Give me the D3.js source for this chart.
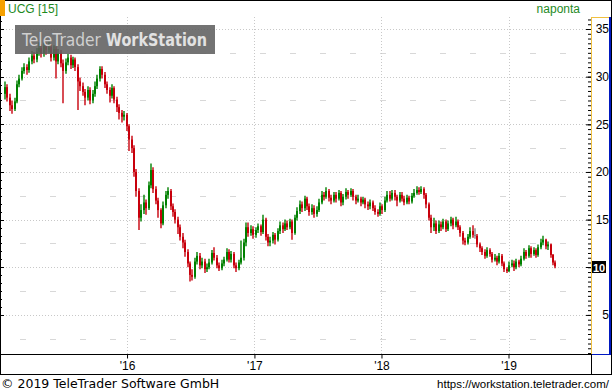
<!DOCTYPE html>
<html>
<head>
<meta charset="utf-8">
<script src="https://cdn.jsdelivr.net/npm/d3@7"></script>
<style>
  body { margin: 0; background: #fff; }
  svg { display: block; font-family: "Liberation Sans", Arial, sans-serif; }
</style>
</head>
<body>
<script>
// Weekly candles, first week starts 12 Jan 2015
var firstWeek = new Date(2015, 0, 12);

var opens = [
  28.2, 28.9, 27.8, 27.0, 26.6, 27.4, 29.2, 29.8, 30.6, 31.0,
  30.7, 31.6, 32.2, 31.8, 32.6, 33.0, 32.4, 33.2, 32.8, 33.1,
  32.0, 32.9, 31.6, 32.5, 31.4, 30.6, 31.5, 32.0, 31.2, 31.8,
  31.0, 29.5, 29.0, 28.4, 27.8, 28.6, 27.5, 28.2, 29.0, 29.8,
  30.8, 30.2, 29.2, 28.6, 28.0, 28.8, 27.6, 26.8, 26.2, 25.8,
  26.0, 24.8, 23.4, 22.5, 20.0, 18.0, 15.2, 16.0, 16.8, 16.2,
  18.6, 20.2, 18.2, 17.0, 16.0, 14.6, 16.5, 17.6, 18.0, 16.4,
  15.8, 15.0, 14.2, 13.2, 12.6, 11.6, 10.4, 9.2, 9.0, 10.6,
  11.2, 10.2, 10.6, 9.8, 10.0, 10.5, 11.5, 11.0, 10.2, 9.9,
  10.4, 10.8, 11.6, 10.8, 11.4, 10.2, 9.9, 10.5, 11.0, 12.6,
  14.2, 13.6, 14.0, 13.4, 13.9, 14.3, 13.7, 15.0, 13.2, 12.6,
  12.8, 13.4, 12.9, 13.8, 14.4, 14.0, 14.6, 14.2, 14.8, 13.6,
  15.2, 15.9, 16.6, 16.2, 17.2, 16.4, 15.8, 16.2, 15.6, 16.0,
  16.8, 17.6, 17.4, 18.0, 17.3, 17.0, 17.6, 17.2, 17.8, 16.8,
  17.4, 17.9, 17.6, 18.0, 17.4, 17.0, 17.2, 16.8, 17.1, 16.6,
  16.4, 16.8, 16.2, 15.8, 15.6, 16.4, 16.0, 17.0, 17.6, 17.2,
  17.8, 17.4, 17.0, 17.6, 17.2, 16.8, 17.3, 16.9, 17.5, 17.8,
  18.1, 17.9, 18.2, 17.6, 16.6, 15.2, 14.2, 14.6, 13.8, 14.5,
  14.2, 14.8, 14.0, 14.6, 15.0, 14.4, 14.8, 14.2, 13.6, 12.8,
  12.6, 13.2, 13.8, 13.4, 13.3, 12.4, 12.0, 11.6, 11.2, 11.8,
  11.4, 10.8, 11.0, 10.6, 11.2, 10.4, 9.8, 9.6, 10.2, 10.4,
  10.0, 10.6, 10.3, 10.9, 11.6, 11.2, 12.0, 11.4, 11.8, 11.3,
  12.1, 12.6, 12.9, 12.2, 12.4, 11.3, 10.5
];

var highs = [
  29.5, 29.2, 28.2, 27.5, 27.8, 29.6, 30.2, 31.0, 31.4, 31.3,
  32.0, 32.7, 32.6, 33.0, 33.6, 33.4, 33.6, 33.5, 33.7, 33.4,
  33.3, 33.2, 32.9, 32.8, 31.8, 31.9, 32.4, 32.3, 32.1, 32.0,
  31.3, 29.9, 29.4, 28.7, 29.0, 28.9, 28.6, 29.5, 30.2, 31.1,
  31.1, 30.5, 29.5, 28.9, 29.2, 29.0, 27.9, 27.1, 26.5, 26.4,
  26.2, 25.0, 23.8, 22.8, 20.3, 18.3, 16.6, 17.6, 17.1, 19.0,
  20.9, 20.5, 18.5, 17.3, 16.2, 16.9, 18.0, 18.4, 18.2, 16.7,
  16.1, 15.3, 14.5, 13.6, 12.9, 11.9, 10.6, 9.8, 11.0, 11.6,
  11.5, 11.0, 10.9, 10.4, 10.9, 11.8, 12.1, 11.3, 10.5, 10.8,
  11.1, 12.0, 11.9, 11.7, 11.6, 10.5, 10.8, 12.8, 13.0, 14.7,
  14.7, 14.4, 14.3, 14.2, 14.6, 14.5, 15.5, 15.2, 13.5, 13.2,
  13.7, 13.6, 14.1, 14.8, 14.7, 15.0, 14.9, 15.1, 15.0, 15.5,
  16.3, 17.0, 16.9, 17.5, 17.4, 16.7, 16.6, 16.5, 16.4, 17.2,
  18.0, 17.9, 18.4, 18.2, 17.6, 17.9, 17.9, 18.1, 18.0, 17.7,
  18.3, 18.1, 18.3, 18.2, 17.6, 17.6, 17.4, 17.4, 17.3, 16.9,
  17.1, 17.0, 16.5, 16.1, 16.8, 16.6, 17.4, 18.0, 18.0, 18.1,
  18.1, 17.6, 17.9, 17.9, 17.5, 17.6, 17.5, 17.8, 18.2, 18.5,
  18.4, 18.5, 18.4, 17.8, 16.8, 15.5, 15.2, 14.9, 14.9, 14.8,
  15.1, 15.0, 14.9, 15.3, 15.2, 15.3, 15.0, 14.4, 13.8, 13.1,
  13.5, 14.2, 14.4, 14.1, 13.5, 12.6, 12.2, 11.9, 12.1, 12.0,
  11.6, 11.4, 11.2, 11.5, 11.4, 10.6, 10.0, 10.6, 10.8, 10.7,
  10.9, 10.8, 11.2, 12.0, 11.8, 12.3, 12.2, 12.1, 12.0, 12.4,
  13.0, 13.3, 13.0, 12.7, 12.5, 11.4, 10.7
];

var lows = [
  27.6, 27.4, 26.4, 26.1, 26.4, 27.2, 28.9, 29.6, 30.3, 30.2,
  30.4, 31.3, 31.4, 31.5, 32.2, 32.0, 32.1, 32.3, 32.5, 31.6,
  31.7, 29.8, 31.3, 31.0, 27.2, 30.3, 31.2, 30.8, 30.9, 30.6,
  26.5, 28.5, 28.0, 27.0, 27.5, 27.1, 27.2, 27.9, 28.7, 29.5,
  29.8, 28.8, 28.2, 27.3, 27.7, 27.2, 26.3, 25.5, 25.2, 25.4,
  24.3, 22.2, 22.0, 19.5, 17.4, 13.9, 14.8, 15.6, 15.5, 16.0,
  18.3, 17.8, 16.6, 15.2, 14.1, 14.4, 16.2, 17.2, 16.0, 15.3,
  14.6, 13.5, 12.8, 12.0, 11.1, 10.0, 8.5, 8.6, 8.8, 10.3,
  9.8, 9.9, 9.4, 9.5, 9.8, 10.3, 10.7, 9.9, 9.6, 9.7,
  10.1, 10.6, 10.5, 10.5, 9.9, 9.5, 9.7, 10.3, 10.7, 12.2,
  13.2, 13.3, 13.0, 13.1, 13.6, 13.3, 13.5, 12.8, 12.2, 12.2,
  12.5, 12.4, 12.7, 13.5, 13.6, 13.8, 13.9, 14.0, 12.9, 13.4,
  14.9, 15.6, 15.8, 15.9, 16.0, 15.4, 15.5, 15.2, 15.3, 15.8,
  16.6, 17.0, 17.2, 16.9, 16.6, 16.8, 16.8, 17.0, 16.4, 16.5,
  17.1, 17.2, 17.4, 17.0, 16.6, 16.8, 16.4, 16.6, 16.2, 16.0,
  16.1, 15.9, 15.5, 15.3, 15.4, 15.6, 15.8, 16.8, 16.9, 17.0,
  17.0, 16.4, 16.8, 16.9, 16.5, 16.6, 16.6, 16.7, 17.3, 17.6,
  17.6, 17.7, 17.2, 16.2, 14.9, 13.6, 13.8, 13.5, 13.6, 13.8,
  14.0, 13.7, 13.8, 14.3, 14.0, 14.2, 13.9, 13.2, 12.4, 12.3,
  12.4, 13.0, 13.1, 13.0, 12.1, 11.6, 11.3, 10.9, 11.0, 11.1,
  10.5, 10.6, 10.2, 10.4, 10.1, 9.5, 9.4, 9.5, 10.0, 9.6,
  9.8, 10.0, 10.1, 10.7, 10.9, 11.0, 11.0, 11.2, 11.0, 11.1,
  11.9, 12.3, 11.9, 11.8, 11.0, 10.2, 9.9
];

var closes = [
  28.9, 27.8, 27.0, 26.6, 27.4, 29.2, 29.8, 30.6, 31.0, 30.7,
  31.6, 32.2, 31.8, 32.6, 33.0, 32.4, 33.2, 32.8, 33.1, 32.0,
  32.9, 31.6, 32.5, 31.4, 30.6, 31.5, 32.0, 31.2, 31.8, 31.0,
  29.5, 29.0, 28.4, 27.8, 28.6, 27.5, 28.2, 29.0, 29.8, 30.8,
  30.2, 29.2, 28.6, 28.0, 28.8, 27.6, 26.8, 26.2, 25.8, 26.0,
  24.8, 23.4, 22.5, 20.0, 18.0, 15.2, 16.0, 16.8, 16.2, 18.6,
  20.2, 18.2, 17.0, 16.0, 14.6, 16.5, 17.6, 18.0, 16.4, 15.8,
  15.0, 14.2, 13.2, 12.6, 11.6, 10.4, 9.2, 9.0, 10.6, 11.2,
  10.2, 10.6, 9.8, 10.0, 10.5, 11.5, 11.0, 10.2, 9.9, 10.4,
  10.8, 11.6, 10.8, 11.4, 10.2, 9.9, 10.5, 11.0, 12.6, 14.2,
  13.6, 14.0, 13.4, 13.9, 14.3, 13.7, 15.0, 13.2, 12.6, 12.8,
  13.4, 12.9, 13.8, 14.4, 14.0, 14.6, 14.2, 14.8, 13.6, 15.2,
  15.9, 16.6, 16.2, 17.2, 16.4, 15.8, 16.2, 15.6, 16.0, 16.8,
  17.6, 17.4, 18.0, 17.3, 17.0, 17.6, 17.2, 17.8, 16.8, 17.4,
  17.9, 17.6, 18.0, 17.4, 17.0, 17.2, 16.8, 17.1, 16.6, 16.4,
  16.8, 16.2, 15.8, 15.6, 16.4, 16.0, 17.0, 17.6, 17.2, 17.8,
  17.4, 17.0, 17.6, 17.2, 16.8, 17.3, 16.9, 17.5, 17.8, 18.1,
  17.9, 18.2, 17.6, 16.6, 15.2, 14.2, 14.6, 13.8, 14.5, 14.2,
  14.8, 14.0, 14.6, 15.0, 14.4, 14.8, 14.2, 13.6, 12.8, 12.6,
  13.2, 13.8, 13.4, 13.4, 12.4, 12.0, 11.6, 11.2, 11.8, 11.4,
  10.8, 11.0, 10.6, 11.2, 10.4, 9.8, 9.6, 10.2, 10.4, 10.0,
  10.6, 10.3, 10.9, 11.6, 11.2, 12.0, 11.4, 11.8, 11.3, 12.1,
  12.6, 12.9, 12.2, 12.4, 11.3, 10.5, 10.1
];

var priceTicks = [5, 10, 15, 20, 25, 30, 35];
var yearTicks = [new Date(2016, 0, 1), new Date(2017, 0, 1), new Date(2018, 0, 1), new Date(2019, 0, 1)];
var lastPrice = 10;

// size of the picture
var width = 612, height = 392;
var plotLeft = 0, plotRight = 591, plotTop = 17, plotBottom = 354;

var svg = d3.select('body').append('svg')
  .attr('width', width)
  .attr('height', height);

svg.append('rect').attr('width', width).attr('height', height).attr('fill', '#fff');

var x = d3.scaleTime()
  .domain([new Date(2015, 0, 1), new Date(2019, 7, 26)])
  .range([plotLeft, plotRight]);

var y = d3.scaleLinear()
  .domain([0.9, 36.26])
  .range([plotBottom, plotTop]);

var candles = closes.map(function(c, i) {
  return {date: d3.timeWeek.offset(firstWeek, i), o: opens[i], h: highs[i], l: lows[i], c: c};
});

// grid
var grid = svg.append('g');
grid.selectAll('.hmaj').data(priceTicks).enter().append('line')
  .attr('x1', plotLeft).attr('x2', plotRight)
  .attr('y1', d => Math.round(y(d)) + 0.5).attr('y2', d => Math.round(y(d)) + 0.5)
  .attr('stroke', '#c8c8c8').attr('stroke-dasharray', '1,2');
grid.selectAll('.hmin').data(priceTicks.map(d => d - 2.5)).enter().append('line')
  .attr('x1', plotLeft + 20).attr('x2', plotRight)
  .attr('y1', d => Math.round(y(d)) + 0.5).attr('y2', d => Math.round(y(d)) + 0.5)
  .attr('stroke', '#d8d8d8').attr('stroke-dasharray', '6,24');
grid.selectAll('.vmaj').data(yearTicks).enter().append('line')
  .attr('x1', d => Math.round(x(d)) + 0.5).attr('x2', d => Math.round(x(d)) + 0.5)
  .attr('y1', plotTop).attr('y2', plotBottom)
  .attr('stroke', '#c8c8c8').attr('stroke-dasharray', '1,2');

// candles
function candleColor(d) {
  if (d.c > d.o) return '#008000';
  if (d.c < d.o) return '#c8000c';
  return '#888';
}
var cg = svg.append('g');
cg.selectAll('line').data(candles).enter().append('line')
  .attr('x1', d => Math.round(x(d.date)) + 1)
  .attr('x2', d => Math.round(x(d.date)) + 1)
  .attr('y1', d => y(d.h))
  .attr('y2', d => y(d.l))
  .attr('stroke-width', 1.4)
  .attr('stroke', candleColor);
cg.selectAll('rect').data(candles).enter().append('rect')
  .attr('x', d => Math.round(x(d.date)))
  .attr('width', 2)
  .attr('y', d => y(Math.max(d.o, d.c)))
  .attr('height', d => Math.max(1, Math.abs(y(d.o) - y(d.c))))
  .attr('fill', candleColor);

// watermark
var wm = svg.append('g');
wm.append('rect')
  .attr('x', 15).attr('y', 25).attr('width', 200).attr('height', 29)
  .attr('fill', '#606060').attr('opacity', 0.88);
wm.append('text')
  .attr('x', 22).attr('y', 46)
  .attr('font-size', 18)
  .attr('font-family', '"DejaVu Sans", sans-serif')
  .attr('fill', '#cfcfcf')
  .attr('textLength', 79).attr('lengthAdjust', 'spacingAndGlyphs')
  .text('TeleTrader');
wm.append('text')
  .attr('x', 106).attr('y', 46)
  .attr('font-size', 18)
  .attr('font-weight', 'bold')
  .attr('font-family', '"DejaVu Sans", sans-serif')
  .attr('fill', '#e2e2e2')
  .attr('textLength', 101).attr('lengthAdjust', 'spacingAndGlyphs')
  .text('WorkStation');

// left edge ticks
var leftTicks = d3.range(1, 36.3, 5 / 6);
svg.append('g').selectAll('line').data(leftTicks).enter().append('line')
  .attr('x1', 0).attr('x2', (d, i) => i % 6 === 0 ? 4 : 2)
  .attr('y1', d => Math.round(y(d - 1 + 5)) + 0.5)
  .attr('y2', d => Math.round(y(d - 1 + 5)) + 0.5)
  .attr('stroke', '#000');

// right price axis
var minorAxis = d3.axisLeft(y)
  .tickValues(d3.range(1, 36.1, 0.5))
  .tickSize(3)
  .tickFormat('');
svg.append('g')
  .attr('transform', 'translate(' + plotRight + ',0)')
  .call(minorAxis)
  .call(g => g.select('.domain').remove())
  .selectAll('line').attr('stroke', '#000');

var majorAxis = d3.axisRight(y)
  .tickValues(priceTicks.filter(d => d !== lastPrice))
  .tickSize(0)
  .tickPadding(0);
var ra = svg.append('g')
  .attr('transform', 'translate(' + plotRight + ',0)')
  .call(majorAxis);
ra.select('.domain').remove();
ra.selectAll('text')
  .attr('x', 18)
  .attr('text-anchor', 'end')
  .attr('font-size', 12)
  .attr('font-family', '"Liberation Sans", Arial, sans-serif')
  .attr('fill', '#000');
ra.selectAll('.tick').append('line')
  .attr('x1', -5).attr('x2', 0)
  .attr('stroke', '#000');

// last price box (covers the normal label of that level)
svg.append('line')
  .attr('x1', plotRight - 5).attr('x2', plotRight)
  .attr('y1', Math.round(y(lastPrice)) + 0.5).attr('y2', Math.round(y(lastPrice)) + 0.5)
  .attr('stroke', '#000');
svg.append('rect')
  .attr('x', 592).attr('y', Math.round(y(lastPrice)) - 6)
  .attr('width', 14).attr('height', 12)
  .attr('fill', '#000');
svg.append('text')
  .attr('x', 599).attr('y', Math.round(y(lastPrice)) + 4.5)
  .attr('text-anchor', 'middle')
  .attr('font-size', 11).attr('font-weight', 'bold')
  .attr('fill', '#fff')
  .text(lastPrice);

// frames
svg.append('line').attr('x1', 0).attr('x2', width).attr('y1', 0.5).attr('y2', 0.5).attr('stroke', '#000');
svg.append('line').attr('x1', 0.5).attr('x2', 0.5).attr('y1', 0).attr('y2', 374).attr('stroke', '#000');
svg.append('line').attr('x1', 0).attr('x2', plotRight).attr('y1', plotBottom + 0.5).attr('y2', plotBottom + 0.5).attr('stroke', '#000');
svg.append('line').attr('x1', 0).attr('x2', width).attr('y1', 374.5).attr('y2', 374.5).attr('stroke', '#000');
svg.append('line').attr('x1', plotRight + 0.5).attr('x2', plotRight + 0.5).attr('y1', plotTop).attr('y2', plotBottom + 1).attr('stroke', '#f0c040');
svg.append('line').attr('x1', plotRight).attr('x2', 611).attr('y1', plotTop + 0.5).attr('y2', plotTop + 0.5).attr('stroke', '#f0c040');
svg.append('line').attr('x1', 610).attr('x2', 610).attr('y1', plotTop).attr('y2', plotBottom + 1).attr('stroke', '#0018c0').attr('stroke-width', 2);
svg.append('line').attr('x1', plotRight).attr('x2', 611).attr('y1', plotBottom + 0.5).attr('y2', plotBottom + 0.5).attr('stroke', '#0018c0');
svg.append('line').attr('x1', plotRight + 0.5).attr('x2', plotRight + 0.5).attr('y1', plotBottom).attr('y2', 374).attr('stroke', '#000');
svg.append('line').attr('x1', 611.5).attr('x2', 611.5).attr('y1', 0).attr('y2', 374).attr('stroke', '#000');

// time axis
var xAxis = d3.axisBottom(x)
  .tickValues(yearTicks)
  .tickSize(4)
  .tickPadding(3)
  .tickFormat(d3.timeFormat("'%y"));
var xa = svg.append('g')
  .attr('transform', 'translate(0,' + (plotBottom + 0.5) + ')')
  .call(xAxis);
xa.select('.domain').remove();
xa.selectAll('line').attr('stroke', '#000');
xa.selectAll('text')
  .attr('font-size', 12)
  .attr('font-family', '"Liberation Sans", Arial, sans-serif')
  .attr('fill', '#000');

// header
svg.append('rect').attr('x', 0).attr('y', 0).attr('width', 5).attr('height', 16).attr('fill', '#f5a000');
svg.append('text')
  .attr('x', 8).attr('y', 13)
  .attr('font-size', 12)
  .attr('fill', '#1e8a1e')
  .text('UCG [15]');
svg.append('text')
  .attr('x', 580).attr('y', 13)
  .attr('text-anchor', 'end')
  .attr('font-size', 12)
  .attr('fill', '#1e8a1e')
  .text('naponta');

// footer
svg.append('text')
  .attr('x', 1).attr('y', 388)
  .attr('font-size', 12.5)
  .attr('font-family', '"DejaVu Sans", sans-serif')
  .attr('fill', '#000')
  .text('\u00a9 2019 TeleTrader Software GmbH');
svg.append('text')
  .attr('x', 609).attr('y', 388)
  .attr('text-anchor', 'end')
  .attr('font-size', 11.5)
  .attr('fill', '#000')
  .text('https://workstation.teletrader.com/');
</script>
</body>
</html>
